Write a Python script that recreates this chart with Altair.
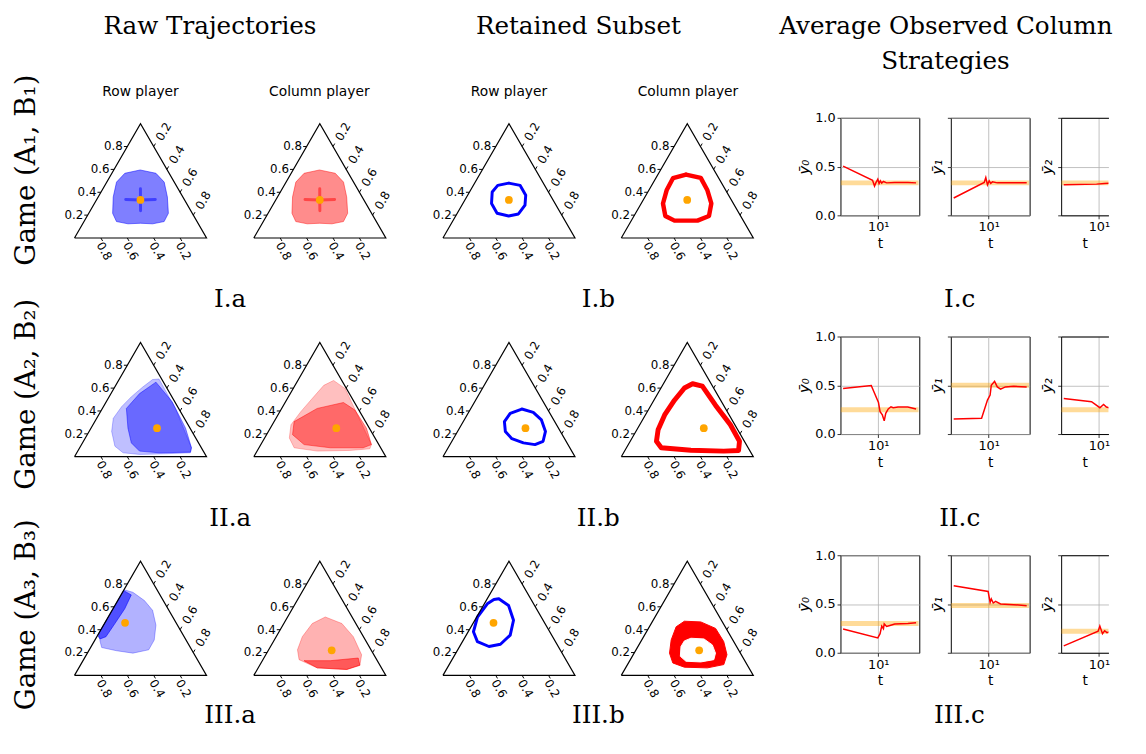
import altair as alt
import numpy as np
import pandas as pd

# ---------------- ternary tick values ----------------
TICK_VALUES = [0.2, 0.4, 0.6, 0.8]
TICK_LABELS = ["0.2", "0.4", "0.6", "0.8"]

# ---------------- equilibria (top component = y2, right component = y1) --------
ROW_EQ_TOP = [0.333, 0.25, 0.46]
ROW_EQ_RIGHT = [0.333, 0.50, 0.153]
COL_EQ_TOP = [0.333, 0.25, 0.22]
COL_EQ_RIGHT = [0.333, 0.50, 0.48]

# ---------------- raw trajectory clouds (outline, ternary: top, right) --------
RAW1_ROW_TOP = [0.595, 0.566, 0.489, 0.359, 0.216, 0.144, 0.124, 0.129, 0.124, 0.144, 0.216, 0.359, 0.489, 0.566]
RAW1_ROW_RIGHT = [0.200, 0.334, 0.435, 0.524, 0.603, 0.607, 0.530, 0.435, 0.343, 0.246, 0.181, 0.114, 0.074, 0.098]
RAW1_ARM_H_TOP = [0.336, 0.333, 0.336]
RAW1_ARM_H_RIGHT = [0.220, 0.333, 0.444]
RAW1_ARM_V_TOP = [0.239, 0.333, 0.431]
RAW1_ARM_V_RIGHT = [0.381, 0.333, 0.284]

RAW2_ROW_TOP = [0.680, 0.420, 0.078, 0.034, 0.026, 0.020, 0.034, 0.092, 0.221, 0.336, 0.437, 0.523, 0.609, 0.675]
RAW2_ROW_RIGHT = [0.300, 0.555, 0.847, 0.861, 0.679, 0.483, 0.351, 0.260, 0.171, 0.126, 0.138, 0.168, 0.212, 0.254]
RAW2_ROW_DENSE_TOP = [0.652, 0.480, 0.250, 0.078, 0.040, 0.034, 0.049, 0.121, 0.250, 0.422, 0.552]
RAW2_ROW_DENSE_RIGHT = [0.291, 0.500, 0.716, 0.847, 0.858, 0.625, 0.468, 0.370, 0.280, 0.182, 0.217]

RAW2_COL_TOP = [0.667, 0.595, 0.106, 0.069, 0.055, 0.049, 0.078, 0.164, 0.279, 0.394, 0.509, 0.624]
RAW2_COL_RIGHT = [0.271, 0.395, 0.838, 0.844, 0.700, 0.456, 0.267, 0.187, 0.142, 0.159, 0.188, 0.218]
RAW2_COL_DENSE_TOP = [0.307, 0.422, 0.474, 0.408, 0.250, 0.106, 0.078, 0.078, 0.106, 0.193]
RAW2_COL_DENSE_RIGHT = [0.152, 0.269, 0.442, 0.562, 0.728, 0.838, 0.789, 0.541, 0.328, 0.197]

RAW3_ROW_TOP = [0.750, 0.727, 0.655, 0.569, 0.440, 0.310, 0.224, 0.195, 0.216, 0.244, 0.296, 0.368]
RAW3_ROW_RIGHT = [0.000, 0.079, 0.202, 0.307, 0.397, 0.449, 0.450, 0.345, 0.210, 0.084, 0.046, 0.000]
RAW3_ROW_DENSE_TOP = [0.741, 0.704, 0.583, 0.454, 0.339, 0.319, 0.350]
RAW3_ROW_DENSE_RIGHT = [0.003, 0.078, 0.089, 0.079, 0.069, 0.034, 0.000]

RAW3_COL_TOP = [0.511, 0.454, 0.339, 0.181, 0.089, 0.052, 0.066, 0.138, 0.224, 0.339, 0.454]
RAW3_COL_RIGHT = [0.286, 0.440, 0.584, 0.726, 0.759, 0.678, 0.447, 0.274, 0.219, 0.198, 0.216]
RAW3_COL_DENSE_TOP = [0.129, 0.129, 0.152, 0.089, 0.052, 0.066]
RAW3_COL_DENSE_RIGHT = [0.316, 0.515, 0.715, 0.759, 0.678, 0.447]

# ---------------- retained subset loops ----------------
RET1_ROW_TOP = [0.480, 0.460, 0.374, 0.287, 0.210, 0.193, 0.216, 0.302, 0.402, 0.460]
RET1_ROW_RIGHT = [0.258, 0.355, 0.440, 0.478, 0.467, 0.401, 0.302, 0.217, 0.172, 0.185]
RET1_COL_TOP = [0.555, 0.526, 0.417, 0.302, 0.193, 0.152, 0.152, 0.152, 0.193, 0.302, 0.417, 0.523]
RET1_COL_RIGHT = [0.213, 0.339, 0.444, 0.531, 0.568, 0.501, 0.414, 0.327, 0.237, 0.165, 0.135, 0.130]

RET2_ROW_TOP = [0.417, 0.388, 0.322, 0.221, 0.135, 0.106, 0.121, 0.158, 0.221, 0.307, 0.379]
RET2_ROW_RIGHT = [0.389, 0.490, 0.585, 0.666, 0.691, 0.644, 0.549, 0.443, 0.362, 0.312, 0.320]
RET2_COL_TOP = [0.638, 0.618, 0.451, 0.279, 0.135, 0.055, 0.049, 0.057, 0.078, 0.135, 0.236, 0.365, 0.494, 0.601]
RET2_COL_RIGHT = [0.221, 0.305, 0.488, 0.687, 0.828, 0.861, 0.752, 0.499, 0.264, 0.199, 0.161, 0.146, 0.156, 0.178]

RET3_ROW_TOP = [0.670, 0.612, 0.483, 0.353, 0.273, 0.253, 0.296, 0.382, 0.511, 0.626, 0.664]
RET3_ROW_RIGHT = [0.088, 0.191, 0.293, 0.333, 0.299, 0.222, 0.113, 0.040, 0.006, 0.023, 0.054]
RET3_COL_OUTER_TOP = [0.474, 0.468, 0.411, 0.296, 0.181, 0.095, 0.066, 0.072, 0.109, 0.195, 0.310, 0.425]
RET3_COL_OUTER_RIGHT = [0.241, 0.368, 0.509, 0.628, 0.710, 0.729, 0.619, 0.442, 0.336, 0.268, 0.223, 0.203]
RET3_COL_INNER_TOP = [0.325, 0.319, 0.267, 0.195, 0.138, 0.118, 0.124, 0.167, 0.253, 0.302]
RET3_COL_INNER_RIGHT = [0.365, 0.467, 0.556, 0.616, 0.632, 0.543, 0.428, 0.364, 0.326, 0.327]

# ---------------- average observed column strategies ----------------
T_1_0 = [3.26, 8.34, 8.88, 9.26, 9.86, 10.27, 10.7, 11.17, 11.8, 13.05, 16.9, 25.7, 33.4]
V_1_0 = [0.505, 0.36, 0.30, 0.333, 0.37, 0.327, 0.354, 0.33, 0.347, 0.333, 0.337, 0.337, 0.333]
T_1_1 = [3.29, 8.7, 9.15, 9.65, 10.2, 10.7, 11.3, 13.2, 20.0, 33.7]
V_1_1 = [0.178, 0.337, 0.387, 0.313, 0.354, 0.327, 0.343, 0.333, 0.335, 0.333]
T_1_2 = [3.26, 9.26, 12.0, 17.3, 33.7]
V_1_2 = [0.313, 0.32, 0.327, 0.333, 0.333]

T_2_0 = [3.26, 8.0, 10.07, 10.6, 11.4, 12.1, 12.7, 13.76, 15.0, 16.1, 18.8, 25.7, 33.4]
V_2_0 = [0.466, 0.497, 0.324, 0.23, 0.196, 0.135, 0.213, 0.257, 0.28, 0.27, 0.277, 0.277, 0.257]
T_2_1 = [3.29, 8.0, 9.65, 10.5, 10.9, 12.1, 13.2, 14.65, 17.1, 22.2, 33.7]
V_2_1 = [0.155, 0.162, 0.348, 0.40, 0.50, 0.54, 0.483, 0.46, 0.483, 0.49, 0.483]
T_2_2 = [3.26, 7.9, 10.3, 11.6, 12.7, 15.6, 21.3, 28.6, 33.7]
V_2_2 = [0.365, 0.331, 0.27, 0.304, 0.277, 0.257, 0.236, 0.247, 0.247]

T_3_0 = [3.26, 9.86, 10.6, 11.17, 11.8, 12.1, 13.05, 14.5, 16.9, 25.7, 33.4]
V_3_0 = [0.243, 0.152, 0.196, 0.274, 0.247, 0.297, 0.27, 0.28, 0.294, 0.30, 0.307]
T_3_1 = [3.29, 9.86, 10.5, 10.9, 11.6, 12.5, 14.65, 22.2, 33.7]
V_3_1 = [0.686, 0.628, 0.517, 0.551, 0.51, 0.527, 0.50, 0.493, 0.483]
T_3_2 = [3.26, 9.75, 10.3, 11.2, 12.0, 12.9, 14.8, 28.6, 33.7]
V_3_2 = [0.071, 0.22, 0.274, 0.196, 0.226, 0.206, 0.22, 0.22, 0.22]

LINE_T = [[T_1_0, T_1_1, T_1_2], [T_2_0, T_2_1, T_2_2], [T_3_0, T_3_1, T_3_2]]
LINE_V = [[V_1_0, V_1_1, V_1_2], [V_2_0, V_2_1, V_2_2], [V_3_0, V_3_1, V_3_2]]
LINE_EQ = [[0.333, 0.333, 0.333], [0.25, 0.50, 0.25], [0.30, 0.485, 0.22]]

ROMAN = ["I", "II", "III"]
SUBS = ["₁", "₂", "₃"]
YSUB = ["₀", "₁", "₂"]

# ---------------- layout constants ----------------
SERIF = "DejaVu Serif"
SANS = "DejaVu Sans"
H = np.sqrt(3) / 2
PX = 134.0             # pixels per ternary unit
COL_W = [32.5, 182, 192, 181, 256, 80, 31.5, 80, 31.5, 48]
HEAD_H = 100.9
ROW_H = 150
LAB_H = [71.5, 71.5, 12]
XLO = -0.25
YHI = 122 / PX
YLO = YHI - ROW_H / PX
TL = 0.026             # tick length in ternary units
LINE_H = 99
LOG_SPAN = np.log10(37 / 3)
HEAD_OFF = -40.9
HEAD2_OFF = -76.9
LABEL_OFF = -67.1
LAST_LABEL_OFF = 0.2
GAME_DX = [21.9, 16.5, 14.6]


def poly_df(top, right, closed=True):
    a = list(top)
    b = list(right)
    if closed:
        a.append(a[0])
        b.append(b[0])
    a = np.array(a)
    b = np.array(b)
    return pd.DataFrame({"x": 0.5 * a + b, "y": a * H, "o": np.arange(len(a))})


def ttl(text, orient, size, offset, dx=0, dy=0, font=SERIF, baseline="alphabetic"):
    return alt.TitleParams(text=text, orient=orient, fontSize=size, font=font, fontWeight="normal",
                           color="black", offset=offset, dx=dx, dy=dy, frame="group",
                           anchor="middle", baseline=baseline)


def spacer(w, h, title=None):
    df = pd.DataFrame({"x": [0.0]})
    ch = alt.Chart(df).mark_point(opacity=0, size=1).encode(
        x=alt.X("x:Q", axis=None, scale=alt.Scale(domain=[-1, 1])),
        y=alt.Y("x:Q", axis=None, scale=alt.Scale(domain=[-1, 1])))
    props = dict(width=w, height=h, view=alt.ViewBackground(stroke="transparent"))
    if title is not None:
        props["title"] = title
    return ch.properties(**props)


def tern_panel(width, fills, strokes, eq_top, eq_right, title=None):
    xs = alt.Scale(domain=[XLO, XLO + width / PX], nice=False, zero=False)
    ys = alt.Scale(domain=[YLO, YHI], nice=False, zero=False)
    X = alt.X("x:Q", scale=xs, axis=None)
    Y = alt.Y("y:Q", scale=ys, axis=None)
    layers = []
    for top, right, color, op in fills:
        layers.append(alt.Chart(poly_df(top, right)).mark_line(
            fill=color, fillOpacity=op, stroke=color, strokeOpacity=op, strokeWidth=1
        ).encode(x=X, y=Y, order="o:Q"))
    for top, right, color, w, op, closed in strokes:
        layers.append(alt.Chart(poly_df(top, right, closed)).mark_line(
            color=color, strokeWidth=w, opacity=op, strokeJoin="round", strokeCap="round"
        ).encode(x=X, y=Y, order="o:Q"))
    # triangle boundary
    layers.append(alt.Chart(poly_df([0, 0, 1], [0, 1, 0])).mark_line(
        color="black", strokeWidth=1.2).encode(x=X, y=Y, order="o:Q"))
    tv = np.array(TICK_VALUES)
    left = pd.DataFrame({"x": 0.5 * tv, "y": tv * H, "label": TICK_LABELS})
    left["x2"], left["y2"] = left.x - TL, left.y
    left["lx"], left["ly"] = left.x - 0.034, left.y
    right = pd.DataFrame({"x": 0.5 + 0.5 * tv, "y": (1 - tv) * H, "label": TICK_LABELS})
    right["x2"], right["y2"] = right.x + 0.5 * TL, right.y + H * TL
    right["lx"], right["ly"] = right.x + 0.075, right.y + 0.112
    bottom = pd.DataFrame({"x": 1 - tv, "y": 0 * tv, "label": TICK_LABELS})
    bottom["x2"], bottom["y2"] = bottom.x + 0.5 * TL, bottom.y - H * TL
    bottom["lx"], bottom["ly"] = bottom.x + 0.026, bottom.y - 0.1
    for df, align, angle in [(left, "right", 0), (right, "center", 300), (bottom, "center", 60)]:
        layers.append(alt.Chart(df).mark_rule(color="black", strokeWidth=1).encode(
            x=X, y=Y, x2="x2:Q", y2="y2:Q"))
        layers.append(alt.Chart(df).mark_text(
            align=align, baseline="middle", angle=angle, font=SANS, fontSize=12, color="black"
        ).encode(x=alt.X("lx:Q", scale=xs, axis=None), y=alt.Y("ly:Q", scale=ys, axis=None), text="label:N"))
    eq = pd.DataFrame({"x": [0.5 * eq_top + eq_right], "y": [eq_top * H]})
    layers.append(alt.Chart(eq).mark_circle(color="orange", size=62, opacity=1).encode(x=X, y=Y))
    props = dict(width=width, height=ROW_H, view=alt.ViewBackground(stroke="transparent"))
    if title is not None:
        props["title"] = title
    return alt.layer(*layers).properties(**props)


def line_panel(r, k, w):
    last = k == 2
    tmax = 3 * 10 ** (LOG_SPAN * w / 80)
    xs = alt.Scale(type="log", domain=[3, tmax], nice=False)
    ys = alt.Scale(domain=[0, 1], nice=False, zero=False)
    common = dict(gridColor="#b0b0b0", gridWidth=0.8, tickColor="black", tickSize=3.5, tickWidth=0.8,
                  labelFont=SANS, labelFontSize=13, labelColor="black", labelPadding=2,
                  titleFont=SANS, titleFontWeight="normal", titleColor="black",
                  titlePadding=3, domain=last, domainColor="black", domainWidth=1)
    xaxis = alt.Axis(values=[10], labelExpr="'10¹'", title="t", grid=True, titleFontSize=14, **common)
    yaxis = alt.Axis(values=[0, 0.5, 1], format=".1f", labels=(k == 0), title="ȳ" + YSUB[k],
                     grid=True, titleFontStyle="italic", titleFontSize=15, **common)
    t = LINE_T[r][k]
    v = LINE_V[r][k]
    band = pd.DataFrame({"t": [t[0]], "t2": [t[-1]], "v": [LINE_EQ[r][k]]})
    df = pd.DataFrame({"t": t, "v": v})
    b = alt.Chart(band).mark_rule(color="orange", opacity=0.4, strokeWidth=5, strokeCap="square", clip=True).encode(
        x=alt.X("t:Q", scale=xs, axis=xaxis), x2="t2:Q", y=alt.Y("v:Q", scale=ys, axis=yaxis))
    if not last:
        ln = alt.Chart(df).mark_line(color="red", strokeWidth=1.5, clip=True).encode(
            x=alt.X("t:Q", scale=xs, axis=xaxis), y=alt.Y("v:Q", scale=ys, axis=yaxis))
        return alt.layer(b, ln).properties(width=w, height=LINE_H,
                                           view=alt.ViewBackground(stroke="black", strokeWidth=1))
    # last panel is cut at the right edge: frame drawn by axis domains (no right spine)
    ln = alt.Chart(df).mark_line(color="red", strokeWidth=1.5, clip=True).encode(
        x=alt.X("t:Q", scale=xs, axis=None), y=alt.Y("v:Q", scale=ys, axis=yaxis))
    topaxis = alt.Axis(orient="top", labels=False, ticks=False, grid=False, title="",
                       domain=True, domainColor="black", domainWidth=1)
    top = alt.Chart(band).mark_rule(opacity=0).encode(
        x=alt.X("t:Q", scale=xs, axis=topaxis), x2="t2:Q", y=alt.Y("v:Q", scale=ys, axis=yaxis))
    return alt.layer(b, ln, top).resolve_axis(x="independent").properties(
        width=w, height=LINE_H, view=alt.ViewBackground(stroke="transparent"))


# per-row drawing specs
RAW_ROW_FILLS = [
    [(RAW1_ROW_TOP, RAW1_ROW_RIGHT, "blue", 0.5)],
    [(RAW2_ROW_TOP, RAW2_ROW_RIGHT, "blue", 0.25), (RAW2_ROW_DENSE_TOP, RAW2_ROW_DENSE_RIGHT, "blue", 0.45)],
    [(RAW3_ROW_TOP, RAW3_ROW_RIGHT, "blue", 0.3), (RAW3_ROW_DENSE_TOP, RAW3_ROW_DENSE_RIGHT, "blue", 0.55)],
]
RAW_COL_FILLS = [
    [(RAW1_ROW_TOP, RAW1_ROW_RIGHT, "red", 0.45)],
    [(RAW2_COL_TOP, RAW2_COL_RIGHT, "red", 0.25), (RAW2_COL_DENSE_TOP, RAW2_COL_DENSE_RIGHT, "red", 0.45)],
    [(RAW3_COL_TOP, RAW3_COL_RIGHT, "red", 0.3), (RAW3_COL_DENSE_TOP, RAW3_COL_DENSE_RIGHT, "red", 0.5)],
]
RAW_ROW_STROKES = [
    [(RAW1_ARM_H_TOP, RAW1_ARM_H_RIGHT, "blue", 3, 0.5, False), (RAW1_ARM_V_TOP, RAW1_ARM_V_RIGHT, "blue", 3, 0.5, False)],
    [], [],
]
RAW_COL_STROKES = [
    [(RAW1_ARM_H_TOP, RAW1_ARM_H_RIGHT, "red", 3, 0.5, False), (RAW1_ARM_V_TOP, RAW1_ARM_V_RIGHT, "red", 3, 0.5, False)],
    [], [],
]
RET_ROW_STROKES = [
    [(RET1_ROW_TOP, RET1_ROW_RIGHT, "blue", 3, 1, True)],
    [(RET2_ROW_TOP, RET2_ROW_RIGHT, "blue", 3, 1, True)],
    [(RET3_ROW_TOP, RET3_ROW_RIGHT, "blue", 3, 1, True)],
]
RET_COL_FILLS = [[], [], [(RET3_COL_OUTER_TOP, RET3_COL_OUTER_RIGHT, "red", 1), (RET3_COL_INNER_TOP, RET3_COL_INNER_RIGHT, "white", 1)]]
RET_COL_STROKES = [
    [(RET1_COL_TOP, RET1_COL_RIGHT, "red", 4.5, 1, True)],
    [(RET2_COL_TOP, RET2_COL_RIGHT, "red", 5, 1, True)],
    [],
]

cells = []
# header row
head_titles = {
    2: ttl("Raw Trajectories", "top", 25, HEAD_OFF, dx=-107),
    3: ttl("Retained Subset", "top", 25, HEAD_OFF, dx=80.5),
    5: ttl("Strategies", "top", 25, HEAD2_OFF, dx=66.5),
    7: ttl("Average Observed Column", "top", 25, HEAD_OFF, dx=-45),
}
for c, w in enumerate(COL_W):
    cells.append(spacer(w, HEAD_H, head_titles.get(c)))


def low(label, dx):
    return ttl(label, "bottom", 25, LAST_LABEL_OFF, dx=dx, baseline="top")


for r in range(3):
    first = r == 0
    last_row = r == 2
    top_titles = {
        1: ttl("Row player", "top", 14, 8, dx=9.5, font=SANS),
        2: ttl("Column player", "top", 14, 8, dx=4, font=SANS),
        3: ttl("Row player", "top", 14, 8, dx=10, font=SANS),
        4: ttl("Column player", "top", 14, 8, dx=-26.8, font=SANS),
    } if first else {}
    if last_row:
        # the last row carries its sub-labels as bottom titles of its own panels
        top_titles = {2: low(ROMAN[r] + ".a", -86.5), 3: low(ROMAN[r] + ".b", 100.7)}
    cells.append(spacer(COL_W[0], ROW_H,
                        ttl("Game (A" + SUBS[r] + ", B" + SUBS[r] + ")", "left", 28, -54, dx=GAME_DX[r])))
    cells.append(tern_panel(COL_W[1], RAW_ROW_FILLS[r], RAW_ROW_STROKES[r], ROW_EQ_TOP[r], ROW_EQ_RIGHT[r],
                            top_titles.get(1)))
    cells.append(tern_panel(COL_W[2], RAW_COL_FILLS[r], RAW_COL_STROKES[r], COL_EQ_TOP[r], COL_EQ_RIGHT[r],
                            top_titles.get(2)))
    cells.append(tern_panel(COL_W[3], [], RET_ROW_STROKES[r], ROW_EQ_TOP[r], ROW_EQ_RIGHT[r],
                            top_titles.get(3)))
    cells.append(tern_panel(COL_W[4], RET_COL_FILLS[r], RET_COL_STROKES[r], COL_EQ_TOP[r], COL_EQ_RIGHT[r],
                            top_titles.get(4)))
    cells.append(line_panel(r, 0, COL_W[5]))
    cells.append(spacer(COL_W[6], ROW_H, low(ROMAN[r] + ".c", 25) if last_row else None))
    cells.append(line_panel(r, 1, COL_W[7]))
    cells.append(spacer(COL_W[8], ROW_H))
    cells.append(line_panel(r, 2, COL_W[9]))
    # label row beneath
    lab_titles = {} if last_row else {
        2: ttl(ROMAN[r] + ".a", "top", 25, LABEL_OFF, dx=-86.5),
        3: ttl(ROMAN[r] + ".b", "top", 25, LABEL_OFF, dx=100.7),
        7: ttl(ROMAN[r] + ".c", "top", 25, LABEL_OFF, dx=-31),
    }
    for c, w in enumerate(COL_W):
        cells.append(spacer(w, LAB_H[r], lab_titles.get(c)))

chart = alt.concat(*cells, columns=len(COL_W), spacing=0, bounds="flush").properties(padding=0)
chart.save("out.html", embed_options={"renderer": "svg", "actions": False})
